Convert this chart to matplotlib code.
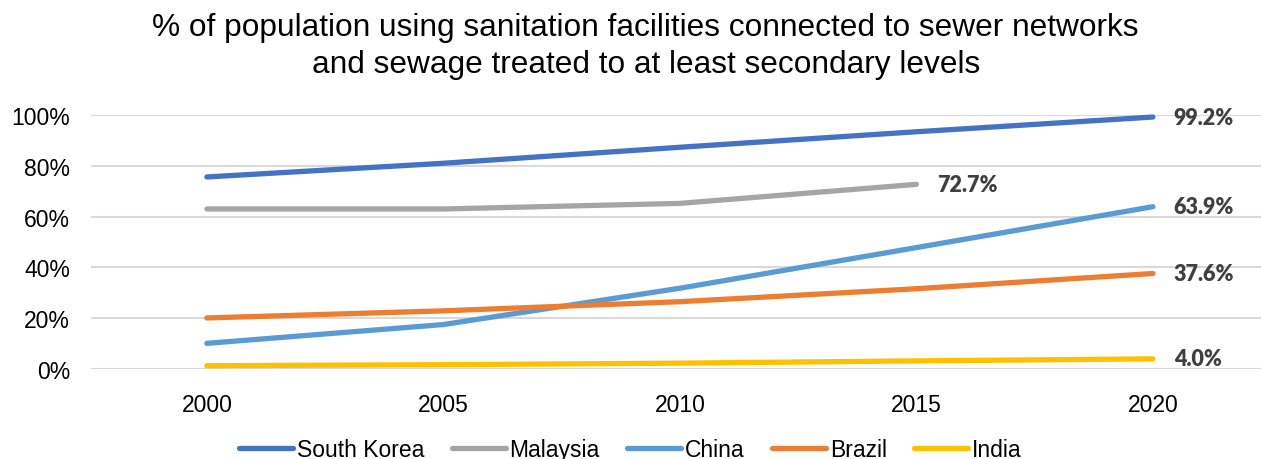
import matplotlib.pyplot as plt

years = ['2000', '2005', '2010', '2015', '2020']
south_korea = [75.6, 81.0, 87.3, 93.4, 99.2]
malaysia = [63.0, 63.0, 65.2, 72.7]
china = [10.1, 17.5, 31.8, 47.8, 63.9]
brazil = [20.1, 22.9, 26.5, 31.6, 37.6]
india = [1.3, 1.7, 2.3, 3.2, 4.0]

names = ['South Korea', 'Malaysia', 'China', 'Brazil', 'India']
series = [south_korea, malaysia, china, brazil, india]
colors = ['#4472C4', '#A5A5A5', '#5B9BD5', '#ED7D31', '#FFC000']

plt.rcParams['font.family'] = ['Liberation Sans', 'DejaVu Sans']

fig = plt.figure(figsize=(12.61, 4.60), dpi=100)
ax = fig.add_axes([91/1261, 1 - 370/460, 1 - 91/1261, (370 - 116)/460])

for name, vals, c in zip(names, series, colors):
    xs = list(range(len(vals)))
    ax.plot(xs, vals, color=c, lw=3.8, solid_capstyle='round', label=name, clip_on=False, zorder=3)
    # label at the last point
    ax.annotate(f'{vals[-1]:.1f}%', (xs[-1], vals[-1]), xytext=(15, 0),
                textcoords='offset points', va='center', ha='left',
                fontsize=15.5, fontweight='heavy', color='#404040', family=['Lato', 'DejaVu Sans'])

ax.set_xlim(-0.49, 4.457)
ax.set_ylim(0, 100)
ax.set_yticks([0, 20, 40, 60, 80, 100])
ax.set_yticklabels([f'{v}%' for v in [0, 20, 40, 60, 80, 100]])
ax.set_xticks(range(len(years)))
ax.set_xticklabels(years)
ax.tick_params(axis='both', length=0, labelsize=16.5, colors='#000000')
ax.tick_params(axis='x', pad=17)
ax.tick_params(axis='y', pad=15)
ax.grid(axis='y', color='#d9d9d9', lw=1.5, zorder=0)
ax.set_axisbelow(True)
for s in ax.spines.values():
    s.set_visible(False)

fig.suptitle('% of population using sanitation facilities connected to sewer networks\nand sewage treated to at least secondary levels',
             x=0.512, y=0.972, fontsize=22.8, linespacing=1.33)

fig.legend(loc='center', bbox_to_anchor=(0.5, 1 - 451/460), ncol=5, frameon=False,
           handlelength=2.35, handletextpad=0.17, columnspacing=1.2,
           prop={'family': ['Liberation Sans'], 'size': 16.5})

fig.savefig('out.png', dpi=100)
